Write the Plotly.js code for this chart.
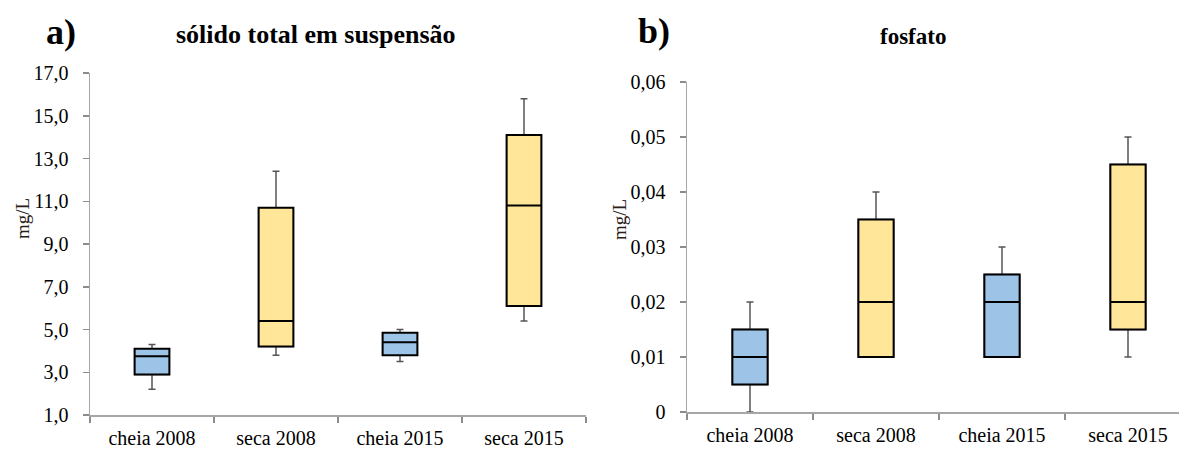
<!DOCTYPE html>
<html>
<head>
<meta charset="utf-8">
<script src="https://cdn.plot.ly/plotly-3.0.1.min.js"></script>
<style>html,body{margin:0;padding:0;background:#fff;}#chart{width:1179px;height:450px;}</style>
</head>
<body>
<div id="chart"></div>
<script>
// ---- data ----
const categories = ['cheia 2008', 'seca 2008', 'cheia 2015', 'seca 2015'];
const season = ['cheia', 'seca', 'cheia', 'seca'];

// a) sólido total em suspensão (mg/L)
const tssMin = [2.2, 3.8, 3.5, 5.4];
const tssQ1  = [2.9, 4.2, 3.8, 6.1];
const tssMed = [3.75, 5.4, 4.4, 10.8];
const tssQ3  = [4.1, 10.7, 4.85, 14.1];
const tssMax = [4.3, 12.4, 5.0, 15.8];

// b) fosfato (mg/L)
const fosMin = [0.0, 0.01, 0.01, 0.01];
const fosQ1  = [0.005, 0.01, 0.01, 0.015];
const fosMed = [0.01, 0.02, 0.02, 0.02];
const fosQ3  = [0.015, 0.035, 0.025, 0.045];
const fosMax = [0.02, 0.04, 0.03, 0.05];

const tssTickVals = [1, 3, 5, 7, 9, 11, 13, 15, 17];
const tssTickText = ['1,0', '3,0', '5,0', '7,0', '9,0', '11,0', '13,0', '15,0', '17,0'];
const fosTickVals = [0, 0.01, 0.02, 0.03, 0.04, 0.05, 0.06];
const fosTickText = ['0', '0,01', '0,02', '0,03', '0,04', '0,05', '0,06'];

// ---- styles ----
const seasonColor = {cheia: '#9dc3e6', seca: '#ffe699'};
const FONT = 'Liberation Serif, Times New Roman, serif';

function pick(arr, s) { return arr.filter((v, i) => season[i] === s); }

function panelTraces(xa, ya, mn, q1, md, q3, mx) {
  const tr = [];
  // whiskers (thin gray)
  tr.push({
    type: 'box', xaxis: xa, yaxis: ya, x: categories,
    q1: q1, median: md, q3: q3, lowerfence: mn, upperfence: mx,
    line: {color: '#555555', width: 1.5}, fillcolor: 'rgba(0,0,0,0)',
    whiskerwidth: 0.2, showlegend: false, hoverinfo: 'skip'
  });
  // boxes
  ['cheia', 'seca'].forEach(s => {
    const q1s = pick(q1, s), q3s = pick(q3, s);
    tr.push({
      type: 'box', xaxis: xa, yaxis: ya, x: pick(categories, s),
      q1: q1s, median: pick(md, s), q3: q3s, lowerfence: q1s, upperfence: q3s,
      line: {color: '#000000', width: 2}, fillcolor: seasonColor[s],
      whiskerwidth: 0, showlegend: false
    });
  });
  return tr;
}

const data = [].concat(
  panelTraces('x', 'y', tssMin, tssQ1, tssMed, tssQ3, tssMax),
  panelTraces('x2', 'y2', fosMin, fosQ1, fosMed, fosQ3, fosMax)
);

const W = 1179, H = 450;
const axisFont = {family: FONT, size: 20, color: '#000'};
const xCommon = {
  type: 'category', categoryorder: 'array', categoryarray: categories,
  showline: true, linecolor: '#a6a6a6', linewidth: 1.5,
  ticks: 'outside', tickson: 'boundaries', ticklen: 6, tickcolor: '#8c8c8c', tickwidth: 1.5,
  showgrid: false, zeroline: false, tickfont: axisFont, ticklabelstandoff: 4, fixedrange: true
};
const yCommon = {
  showline: true, linecolor: '#a6a6a6', linewidth: 1.5,
  ticks: 'outside', ticklen: 6, tickcolor: '#8c8c8c', tickwidth: 1.5,
  showgrid: false, zeroline: false, tickfont: axisFont, ticklabelstandoff: 10, fixedrange: true
};

const layout = {
  width: W, height: H,
  margin: {l: 0, r: 0, t: 0, b: 0},
  paper_bgcolor: '#fff', plot_bgcolor: '#fff',
  boxmode: 'overlay', boxgap: 0.6,
  showlegend: false,
  xaxis: Object.assign({}, xCommon, {domain: [90 / W, 586 / W], range: [-0.5, 3.5], anchor: 'y'}),
  yaxis: Object.assign({}, yCommon, {domain: [1 - 415 / H, 1 - 73 / H], range: [1, 17],
    tickvals: tssTickVals, ticktext: tssTickText, anchor: 'x'}),
  xaxis2: Object.assign({}, xCommon, {domain: [687 / W, 1], range: [-0.5, (W - 687) / 126 - 0.5], anchor: 'y2'}),
  yaxis2: Object.assign({}, yCommon, {domain: [1 - 412 / H, 1 - 82 / H], range: [0, 0.06],
    tickvals: fosTickVals, ticktext: fosTickText, anchor: 'x2'}),
  annotations: [
    {text: '<b>a)</b>', x: 61 / W, y: 1 - 32 / H, xref: 'paper', yref: 'paper', showarrow: false,
     xanchor: 'center', yanchor: 'middle', font: {family: FONT, size: 36, color: '#000'}},
    {text: '<b>sólido total em suspensão</b>', x: 316 / W, y: 1 - 35 / H, xref: 'paper', yref: 'paper', showarrow: false,
     xanchor: 'center', yanchor: 'middle', font: {family: FONT, size: 26, color: '#000'}},
    {text: '<b>b)</b>', x: 654 / W, y: 1 - 31 / H, xref: 'paper', yref: 'paper', showarrow: false,
     xanchor: 'center', yanchor: 'middle', font: {family: FONT, size: 36, color: '#000'}},
    {text: '<b>fosfato</b>', x: 913 / W, y: 1 - 37 / H, xref: 'paper', yref: 'paper', showarrow: false,
     xanchor: 'center', yanchor: 'middle', font: {family: FONT, size: 23, color: '#000'}},
    {text: 'mg/L', x: 22 / W, y: 1 - 219 / H, xref: 'paper', yref: 'paper', showarrow: false, textangle: -90,
     xanchor: 'center', yanchor: 'middle', font: {family: FONT, size: 19, color: '#2a2018'}},
    {text: 'mg/L', x: 619 / W, y: 1 - 220 / H, xref: 'paper', yref: 'paper', showarrow: false, textangle: -90,
     xanchor: 'center', yanchor: 'middle', font: {family: FONT, size: 19, color: '#2a2018'}}
  ]
};

Plotly.newPlot('chart', data, layout, {displayModeBar: false, staticPlot: true});
</script>
</body>
</html>
